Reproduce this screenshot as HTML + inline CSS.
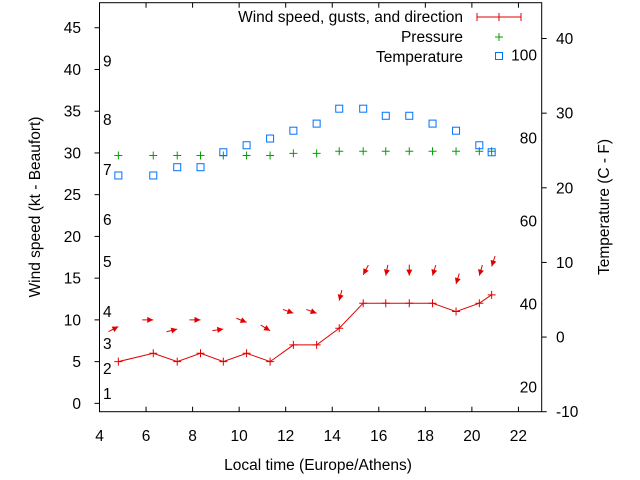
<!DOCTYPE html>
<html><head><meta charset="utf-8"><style>
body{margin:0;background:#fff}
svg{display:block;font-family:"Liberation Sans",sans-serif;font-size:15.5px}
</style></head><body>
<svg id="chart" width="640" height="480">
<rect x="0" y="0" width="640" height="480" fill="#fff"/>
<g id="grid"></g>
<g id="marks"></g>
<text x="318" y="470" text-anchor="middle">Local time (Europe/Athens)</text>
<text transform="translate(40,207) rotate(-90)" text-anchor="middle">Wind speed (kt - Beaufort)</text>
<text transform="translate(609,207) rotate(-90)" text-anchor="middle">Temperature (C - F)</text>
<g>
<text x="463" y="22" text-anchor="end">Wind speed, gusts, and direction</text>
<g stroke="#e00000" stroke-width="1">
<line x1="477" y1="17" x2="521" y2="17"/><line x1="477" y1="13" x2="477" y2="21"/><line x1="521" y1="13" x2="521" y2="21"/><line x1="499" y1="13" x2="499" y2="21"/></g>
<text x="463" y="42" text-anchor="end">Pressure</text>
<g stroke="#00a000"><line x1="495" y1="37" x2="503" y2="37"/><line x1="499" y1="33" x2="499" y2="41"/></g>
<text x="463" y="62" text-anchor="end">Temperature</text>
<rect x="495.5" y="52.5" width="7" height="7" fill="none" stroke="#0070ff"/>
</g>
</svg>
<script>
const times = [4.81,6.31,7.34,8.34,9.32,10.32,11.33,12.33,13.33,14.30,15.33,16.30,17.31,18.31,19.32,20.32,20.85];
const windSpeed = [5,6,5,6,5,6,5,7,7,9,12,12,12,12,11,12,13];
const gustSpeed = [9.2,10,8.9,10,8.9,9.7,8.7,10.8,10.8,12.3,15.4,15.3,15.3,15.3,14.3,15.3,16.4];
const windDirDeg = [-27,0,-14,0,-8,22,31,20,20,104,118,101,90,107,107,106,108];
const pressure = [29.7,29.7,29.7,29.7,29.7,29.7,29.7,29.95,29.95,30.2,30.2,30.2,30.2,30.2,30.2,30.2,30.2];
const temperature = [21.65,21.65,22.76,22.76,24.76,25.7,26.6,27.65,28.6,30.6,30.6,29.65,29.65,28.6,27.65,25.7,24.76];
const xTicks = [4,6,8,10,12,14,16,18,20,22];
const yTicksLeft = [0,5,10,15,20,25,30,35,40,45];
const yTicksRight = [-10,0,10,20,30,40];
const beaufortLabels = ["1","2","3","4","5","6","7","8","9"];
const beaufortPos = [1.2,4.2,7.2,11,17,22,28,34,41];
const fahrenheitTicks = [20,40,60,80,100];

const L=99.5,R=541.7,T=2.7,B=411.7;
const X=t=>L+(t-4)/(23-4)*(R-L);
const YL=v=>B-(v+1)/(48+1)*(B-T);
const YR=v=>B-(v+10)/(44.8+10)*(B-T);
const NS="http://www.w3.org/2000/svg";
const grid=document.getElementById('grid'), marks=document.getElementById('marks');
function mk(tag,attrs,parent){const e=document.createElementNS(NS,tag);for(const k in attrs)e.setAttribute(k,attrs[k]);parent.appendChild(e);return e;}

const frame=mk('rect',{x:L,y:T,width:R-L,height:B-T,fill:'none',stroke:'#000','stroke-width':1},grid);


xTicks.forEach(t=>{
  const x=X(t);
  mk('line',{x1:x,y1:B,x2:x,y2:B-5,stroke:'#000'},grid);
  mk('line',{x1:x,y1:T,x2:x,y2:T+5,stroke:'#000'},grid);
  const tx=mk('text',{x:x,y:441,'text-anchor':'middle'},grid);tx.textContent=t;
  
  
});
yTicksLeft.forEach(v=>{
  const y=YL(v);
  mk('line',{x1:L-5,y1:y,x2:L,y2:y,stroke:'#000'},grid);
  const tx=mk('text',{x:81,y:y+5.5,'text-anchor':'end'},grid);tx.textContent=v;
  
  
});
yTicksRight.forEach(v=>{
  const y=YR(v);
  mk('line',{x1:R,y1:y,x2:R+5,y2:y,stroke:'#000'},grid);
  const tx=mk('text',{x:556,y:y+5.5,'text-anchor':'start'},grid);tx.textContent=v;
  
  
});
beaufortLabels.forEach((s,i)=>{
  const tx=mk('text',{x:103,y:YL(beaufortPos[i])+5.5},grid);tx.textContent=s;
  
  
});
fahrenheitTicks.forEach(f=>{
  const tx=mk('text',{x:537,y:YR((f-32)*5/9)+5.5,'text-anchor':'end'},grid);tx.textContent=f;
  
  
});

const pl=mk('polyline',{points:times.map((t,i)=>X(t)+','+YL(windSpeed[i])).join(' '),fill:'none',stroke:'#e00000','stroke-width':1},marks);


times.forEach((t,i)=>{
  const x=X(t),y=YL(windSpeed[i]);
  const g=mk('path',{d:`M${x-4},${y}H${x+4}M${x},${y-4}V${y+4}`,stroke:'#e00000','stroke-width':1},marks);
  
  
  const a=windDirDeg[i]*Math.PI/180,dx=Math.cos(a),dy=Math.sin(a);
  const hx=X(t),hy=YL(gustSpeed[i]),len=11;
  const tx=hx-dx*len,ty=hy-dy*len;
  const px=-dy,py=dx;
  const ar=mk('g',{},marks);
  
  
  mk('line',{x1:tx,y1:ty,x2:hx,y2:hy,stroke:'#e00000','stroke-width':1},ar);
  mk('polygon',{points:`${hx},${hy} ${hx-dx*6+px*3},${hy-dy*6+py*3} ${hx-dx*6-px*3},${hy-dy*6-py*3}`,fill:'#e00000'},ar);
});
pressure.forEach((p,i)=>{
  const x=X(times[i]),y=YL(p);
  const g=mk('path',{d:`M${x-4},${y}H${x+4}M${x},${y-4}V${y+4}`,stroke:'#00a000','stroke-width':1},marks);
  
  
});
temperature.forEach((v,i)=>{
  const x=X(times[i]),y=YR(v);
  const r=mk('rect',{x:x-3.5,y:y-3.5,width:7,height:7,fill:'none',stroke:'#0070ff','stroke-width':1},marks);
  
  
});
</script>
</body></html>
